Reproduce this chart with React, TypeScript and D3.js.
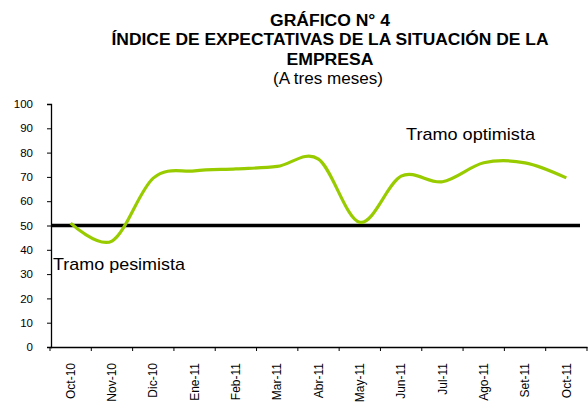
import React, { useEffect, useRef } from "react";
import * as d3 from "d3";

// categorías (meses) y valores del índice
const months = [
  "Oct-10", "Nov-10", "Dic-10", "Ene-11", "Feb-11", "Mar-11", "Abr-11",
  "May-11", "Jun-11", "Jul-11", "Ago-11", "Set-11", "Oct-11",
];
const indexValues = [51, 43.6, 69.5, 72.5, 73.3, 74.3, 77.3, 51.3, 70.3, 68, 75.8, 75.8, 69.6];
const yTicks = [0, 10, 20, 30, 40, 50, 60, 70, 80, 90, 100];
const neutralLevel = 50;

const titleLines = [
  "GRÁFICO N° 4",
  "ÍNDICE DE EXPECTATIVAS DE LA SITUACIÓN DE LA",
  "EMPRESA",
];
const subtitle = "(A tres meses)";
const optimistLabel = "Tramo optimista";
const pessimistLabel = "Tramo pesimista";

const width = 588;
const height = 403;

const App: React.FC = () => {
  const svgRef = useRef<SVGSVGElement>(null);

  useEffect(() => {
    if (!svgRef.current) return;
    const svg = d3.select(svgRef.current);
    svg.selectAll("*").remove();

    const margin = { top: 104, right: 1, bottom: 56, left: 50 };
    const innerWidth = width - margin.left - margin.right;
    const innerHeight = height - margin.top - margin.bottom;
    const font = "'Liberation Sans', Arial, sans-serif";

    svg.append("rect").attr("width", width).attr("height", height).attr("fill", "#ffffff");

    // título
    const titleX = 330;
    const titleY = [26, 45, 65];
    const titleLen = [120, 437, 87];
    titleLines.forEach((t, i) => {
      svg.append("text")
        .attr("x", titleX)
        .attr("y", titleY[i])
        .attr("text-anchor", "middle")
        .attr("textLength", titleLen[i])
        .attr("lengthAdjust", "spacingAndGlyphs")
        .style("font-family", font)
        .style("font-size", "16px")
        .style("font-weight", "bold")
        .text(t);
    });
    svg.append("text")
      .attr("x", 328)
      .attr("y", 84)
      .attr("text-anchor", "middle")
      .attr("textLength", 110)
      .attr("lengthAdjust", "spacingAndGlyphs")
      .style("font-family", font)
      .style("font-size", "16px")
      .text(subtitle);

    const g = svg.append("g")
      .attr("transform", `translate(${margin.left},${margin.top})`);

    const xScale = d3.scaleBand()
      .domain(months)
      .range([0, innerWidth]);

    const yScale = d3.scaleLinear()
      .domain([0, 100])
      .range([innerHeight, 0]);

    // eje y
    const yAxis = g.append("g")
      .attr("transform", "translate(1,0)")
      .call(d3.axisLeft(yScale).tickValues(yTicks).tickSize(4).tickPadding(14));
    yAxis.select(".domain").attr("stroke", "#000").attr("stroke-width", 1.3);
    yAxis.selectAll(".tick line").attr("stroke", "#000");
    yAxis.selectAll("text")
      .attr("fill", "#000")
      .style("font-family", font)
      .style("font-size", "11.5px");

    // eje x
    const xAxis = g.append("g")
      .attr("transform", `translate(0,${innerHeight})`)
      .call(d3.axisBottom(xScale).tickSize(0).tickFormat(() => ""));
    xAxis.select(".domain").attr("stroke", "#000").attr("stroke-width", 1.3);
    const boundaries = months.map((m) => xScale(m) as number).concat([innerWidth]);
    xAxis.selectAll("line.bound")
      .data(boundaries)
      .join("line")
      .attr("class", "bound")
      .attr("x1", (d) => d)
      .attr("x2", (d) => d)
      .attr("y1", 0)
      .attr("y2", 4)
      .attr("stroke", "#000");
    xAxis.selectAll("text.lbl")
      .data(months)
      .join("text")
      .attr("class", "lbl")
      .attr("transform", (d) => `translate(${(xScale(d) as number) + xScale.bandwidth() / 2},16) rotate(-90)`)
      .attr("text-anchor", "end")
      .attr("dy", "0.35em")
      .attr("fill", "#000")
      .style("font-family", font)
      .style("font-size", "12px")
      .text((d) => d);

    // línea de 50
    g.append("line")
      .attr("x1", 1)
      .attr("x2", 530)
      .attr("y1", yScale(neutralLevel))
      .attr("y2", yScale(neutralLevel))
      .attr("stroke", "#000")
      .attr("stroke-width", 3.3);

    // serie
    const line = d3.line<number>()
      .x((_, i) => (xScale(months[i]) as number) + xScale.bandwidth() / 2)
      .y((d) => yScale(d))
      .curve(d3.curveCatmullRom.alpha(0));

    g.append("path")
      .datum(indexValues)
      .attr("d", line)
      .attr("fill", "none")
      .attr("stroke", "#99cc00")
      .attr("stroke-width", 3.2)
      .attr("stroke-linejoin", "round");

    // etiquetas de tramo
    svg.append("text")
      .attr("x", 406)
      .attr("y", 140)
      .attr("textLength", 129)
      .attr("lengthAdjust", "spacingAndGlyphs")
      .style("font-family", font)
      .style("font-size", "17px")
      .text(optimistLabel);
    svg.append("text")
      .attr("x", 53)
      .attr("y", 270)
      .attr("textLength", 132)
      .attr("lengthAdjust", "spacingAndGlyphs")
      .style("font-family", font)
      .style("font-size", "17px")
      .text(pessimistLabel);
  }, []);

  return (
    <svg
      ref={svgRef}
      width={width}
      height={height}
      style={{ position: "absolute", left: 0, top: 0, display: "block" }}
    />
  );
};

export default App;
